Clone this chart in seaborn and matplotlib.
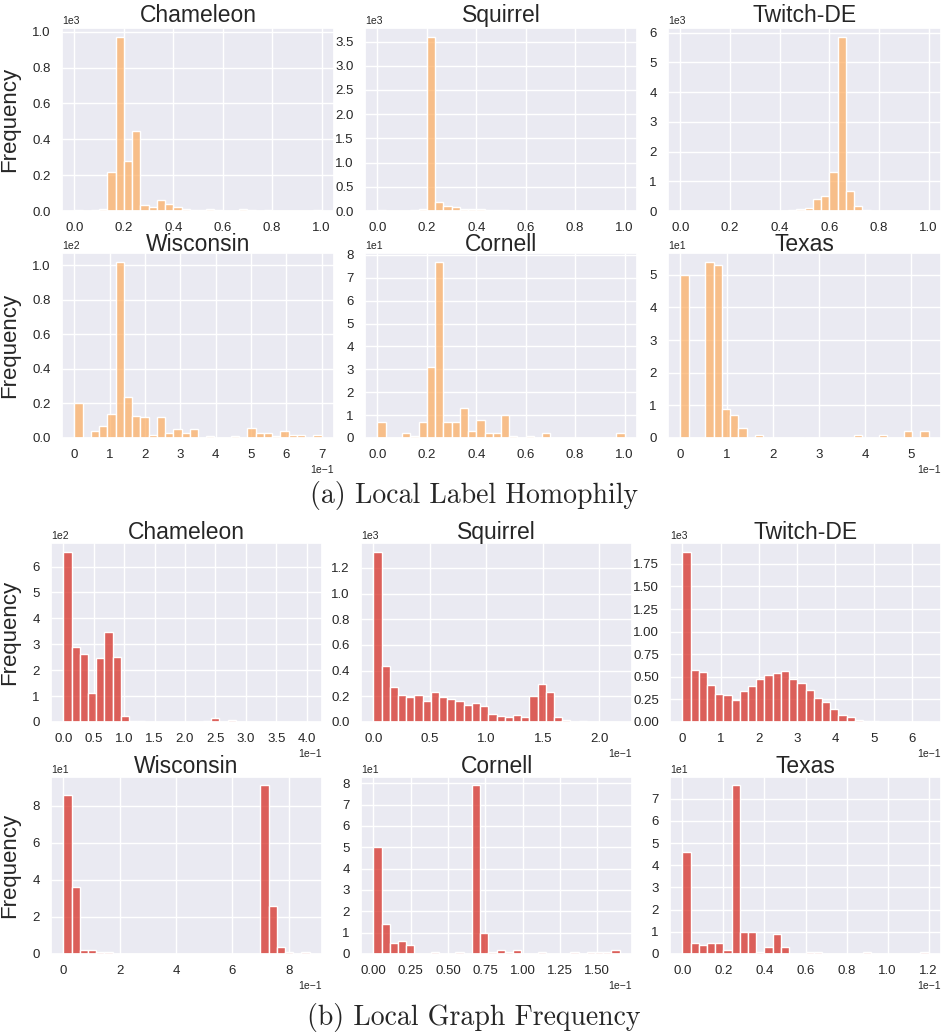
import numpy as np
import pandas as pd
import matplotlib
matplotlib.use("Agg")
import matplotlib.pyplot as plt
from matplotlib.ticker import MaxNLocator
import seaborn as sns

# ---- bin counts (30 equal-width bins from 0 to the upper bound) ----
datasets = ["Chameleon", "Squirrel", "Twitch-DE", "Wisconsin", "Cornell", "Texas"]

# Local label homophily
hom_chameleon = [7, 0, 3, 12, 219, 972, 280, 447, 36, 22, 60, 41, 22, 11, 4,
                 4, 11, 5, 2, 1, 11, 6, 0, 5, 1, 1, 0, 0, 0, 3]
hom_squirrel = [14, 0, 0, 3, 14, 51, 3600, 189, 103, 86, 48, 34, 41, 14, 24,
                21, 3, 10, 2, 2, 2, 2, 10, 1, 1, 1, 1, 0, 1, 1]
hom_twitch = [2, 0, 0, 0, 0, 0, 0, 0, 0, 0, 0, 1, 10, 20, 65,
              110, 410, 510, 1315, 5860, 680, 178, 45, 5, 1, 0, 0, 0, 0, 2]
hom_wisconsin = [20, 0, 4, 7, 14, 102, 24, 13, 12, 2, 12, 3, 5, 3, 5,
                 0, 1, 0, 0, 1, 0, 6, 3, 3, 1, 4, 2, 2, 0, 2]
hom_cornell = [7, 0, 0, 2, 1, 7, 31, 77, 7, 7, 13, 3, 8, 2, 2,
               10, 1, 0, 1, 0, 2, 0, 0, 0, 0, 0, 0, 0, 0, 2]
hom_texas = [50, 0, 0, 54, 53, 9, 7, 3, 0, 1, 0, 0, 0, 0, 0,
             0, 0, 0, 0, 0, 0, 1, 0, 0, 1, 0, 0, 2, 0, 2]
hom_upper = [1.0, 1.0, 1.0, 0.70, 1.0, 0.538]

# Local graph frequency
freq_chameleon = [658, 290, 261, 113, 248, 348, 252, 23, 3, 2, 1, 1, 0, 0, 0,
                  1, 0, 2, 17, 1, 6, 1, 0, 1, 1, 0, 0, 0, 0, 1]
freq_squirrel = [1328, 437, 275, 207, 196, 207, 160, 230, 196, 178, 165, 133, 146, 125, 65,
                 50, 39, 55, 37, 199, 293, 233, 39, 13, 3, 6, 2, 1, 1, 1]
freq_twitch = [1887, 575, 556, 415, 311, 297, 245, 345, 404, 471, 523, 545, 564, 475, 430,
               356, 267, 219, 145, 74, 59, 22, 11, 7, 3, 1, 1, 0, 0, 1]
freq_wisconsin = [86, 36, 2, 2, 1, 1, 0, 0, 0, 0, 0, 0, 0, 0, 0,
                  0, 0, 0, 0, 0, 0, 0, 0, 0, 91, 26, 4, 1, 0, 1]
freq_cornell = [50, 14, 5, 6, 4, 0, 0, 1, 0, 0, 1, 0, 79, 10, 1,
                2, 1, 2, 0, 0, 1, 0, 0, 0, 1, 0, 1, 1, 1, 2]
freq_texas = [46, 5, 4, 5, 5, 2, 76, 10, 10, 1, 3, 9, 3, 0, 0,
              1, 1, 0, 0, 0, 0, 0, 1, 0, 0, 0, 0, 0, 0, 1]
freq_upper = [0.405, 0.218, 0.644, 0.875, 0.165, 0.12]

hom_counts = [hom_chameleon, hom_squirrel, hom_twitch, hom_wisconsin, hom_cornell, hom_texas]
freq_counts = [freq_chameleon, freq_squirrel, freq_twitch, freq_wisconsin, freq_cornell, freq_texas]

captions = ["(a) Local Label Homophily", "(b) Local Graph Frequency"]

# ---- style ----
sns.set_theme(style="darkgrid")
plt.rcParams["font.family"] = ["Liberation Sans", "DejaVu Sans"]
plt.rcParams["xtick.labelsize"] = 9.5
plt.rcParams["ytick.labelsize"] = 9.5

W, H = 947, 1034
fig = plt.figure(figsize=(W / 100, H / 100), dpi=100)


def add_ax(x0, x1, y0, y1):
    return fig.add_axes([x0 / W, 1 - y1 / H, (x1 - x0) / W, (y1 - y0) / H])


top_cols = [(62, 334), (365, 637), (668, 941)]
top_rows = [(28, 211), (253, 438)]
top_pads = [4, 1.5]
bot_cols = [(51, 322), (361, 632), (670, 941)]
bot_rows = [(543, 722), (777, 954)]
bot_pads = [3, 3]
ylabel_x = 20  # pixel column of the "Frequency" labels

blocks = [
    (hom_counts, hom_upper, "#fdae61", 0.72, top_cols, top_rows, top_pads),
    (freq_counts, freq_upper, "#d73027", 0.75, bot_cols, bot_rows, bot_pads),
]

nice_steps = [1, 2, 2.5, 5, 10]

for counts_set, uppers, color, alpha, cols, rows, pads in blocks:
    for k, (name, counts, hi) in enumerate(zip(datasets, counts_set, uppers)):
        r, c = divmod(k, 3)
        x0, x1 = cols[c]
        ax = add_ax(x0, x1, rows[r][0], rows[r][1])
        edges = np.linspace(0.0, hi, 31)
        centers = (edges[:-1] + edges[1:]) / 2
        df = pd.DataFrame({"value": centers, "count": np.asarray(counts, float)})
        sns.histplot(data=df, x="value", weights="count", bins=list(edges), ax=ax,
                     color=color, alpha=alpha, edgecolor="white", linewidth=1)
        ax.set_title(name, fontsize=16.5, pad=pads[r])
        ax.set_xlabel("")
        if c == 0:
            ax.set_ylabel("Frequency", fontsize=16)
            ax.yaxis.set_label_coords((ylabel_x - x0) / (x1 - x0), 0.5)
        else:
            ax.set_ylabel("")
        ax.xaxis.set_major_locator(MaxNLocator(nbins=9, steps=nice_steps))
        ax.yaxis.set_major_locator(MaxNLocator(nbins=9, steps=nice_steps))
        ax.ticklabel_format(style="sci", scilimits=(0, 0), axis="both")
        ax.yaxis.get_offset_text().set_fontsize(7.5)
        ax.xaxis.get_offset_text().set_fontsize(7.5)
        ax.tick_params(axis="both", pad=2)

fig.text(0.5, 1 - 496 / H, captions[0], ha="center", va="center",
         fontsize=20, family="cmr10")
fig.text(0.5, 1 - 1017 / H, captions[1], ha="center", va="center",
         fontsize=20, family="cmr10")

fig.savefig("out.png", dpi=100, facecolor="white")
